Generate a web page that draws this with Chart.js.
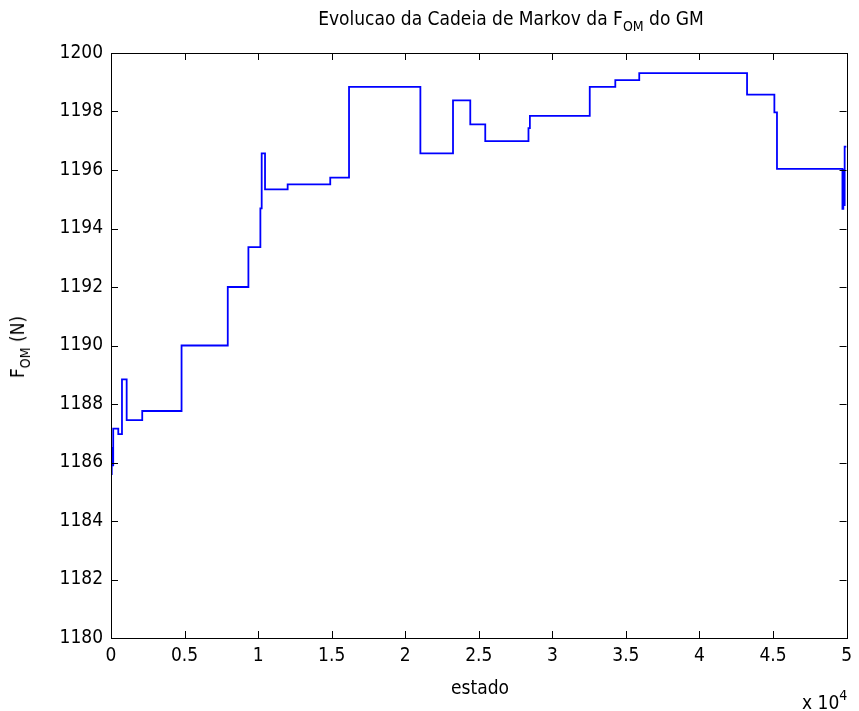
<!DOCTYPE html>
<html>
<head>
<meta charset="utf-8">
<script src="https://cdn.jsdelivr.net/npm/chart.js@4"></script>
<style>
  body { margin: 0; background: #fff; }
  #wrap { position: relative; width: 859px; height: 711px; font-family: "Liberation Sans Narrow", "DejaVu Sans Condensed", Arial, sans-serif; color: #000; }
  canvas { position: absolute; left: 0; top: 0; }
  .txt { position: absolute; white-space: nowrap; font-size: 19px; line-height: 1; }
  sub { font-size: 14px; vertical-align: -6px; }
  sup { font-size: 14px; vertical-align: 9px; }
</style>
</head>
<body>
<div id="wrap">
  <canvas id="grafico" width="859" height="711"></canvas>
  <div class="txt" id="titulo" style="left:511px; top:9px; transform: translateX(-50%);">Evolucao da Cadeia de Markov da F<sub>OM</sub> do GM</div>
  <div class="txt" id="rotuloY" style="left:20px; top:347px; transform: translate(-50%, -50%) rotate(-90deg);">F<sub>OM</sub> (N)</div>
  <div class="txt" id="rotuloX" style="left:480px; top:678px; transform: translateX(-50%);">estado</div>
  <div class="txt" id="expoente" style="left:802px; top:688px;">x 10<sup>4</sup></div>
</div>
<script>
// estado onde cada novo valor comeca (degraus da cadeia)
const estados = [0, 50, 100, 150, 495, 746, 1065, 2123, 4796, 7937, 9340, 10154, 10243, 10470, 12008, 14903, 16180, 21030, 23248, 24422, 25440, 28378, 28473, 32543, 34280, 35908, 43236, 45093, 45270, 49720, 49780, 49830, 49870, 50000];
const fom = [1185.6, 1186.5, 1185.9, 1187.16, 1186.97, 1188.84, 1187.45, 1187.76, 1190.0, 1192.0, 1193.36, 1194.69, 1196.57, 1195.34, 1195.51, 1195.74, 1198.84, 1196.57, 1198.38, 1197.56, 1196.99, 1197.43, 1197.85, 1198.84, 1199.07, 1199.31, 1198.58, 1197.97, 1196.04, 1194.67, 1196.0, 1194.8, 1196.8, 1196.8];
const ticksX = [0, 5000, 10000, 15000, 20000, 25000, 30000, 35000, 40000, 45000, 50000];
const ticksY = [1180, 1182, 1184, 1186, 1188, 1190, 1192, 1194, 1196, 1198, 1200];

const fonte = { family: '"Liberation Sans Narrow", "DejaVu Sans Condensed", Arial, sans-serif', size: 19 };

// caixa e marcas para dentro, estilo matlab
const marcasInternas = {
  id: 'marcasInternas',
  afterDraw(chart) {
    const ctx = chart.ctx;
    const a = chart.chartArea;
    const sx = chart.scales.x, sy = chart.scales.y;
    const len = 7;
    ctx.save();
    ctx.strokeStyle = '#000';
    ctx.lineWidth = 1;
    ctx.beginPath();
    ticksX.forEach(v => {
      const px = Math.round(sx.getPixelForValue(v)) + 0.5;
      ctx.moveTo(px, a.bottom); ctx.lineTo(px, a.bottom - len);
      ctx.moveTo(px, a.top); ctx.lineTo(px, a.top + len);
    });
    ticksY.forEach(v => {
      const py = Math.round(sy.getPixelForValue(v)) + 0.5;
      ctx.moveTo(a.left, py); ctx.lineTo(a.left + len, py);
      ctx.moveTo(a.right, py); ctx.lineTo(a.right - len, py);
    });
    ctx.stroke();
    ctx.strokeRect(Math.round(a.left) + 0.5, Math.round(a.top) + 0.5, Math.round(a.right - a.left), Math.round(a.bottom - a.top));
    ctx.restore();
  }
};

new Chart(document.getElementById('grafico'), {
  type: 'line',
  data: {
    datasets: [{
      data: estados.map((e, i) => ({ x: e, y: fom[i] })),
      borderColor: '#0000ff',
      borderWidth: 1.8,
      pointRadius: 0,
      stepped: true,
      fill: false
    }]
  },
  options: {
    responsive: false,
    animation: false,
    layout: { padding: { top: 53, right: 11, left: 0, bottom: 0 } },
    plugins: { legend: { display: false }, tooltip: { enabled: false } },
    scales: {
      x: {
        type: 'linear',
        min: 0, max: 50000,
        afterFit: s => { s.height = 73; },
        afterBuildTicks: s => { s.ticks = ticksX.map(v => ({ value: v })); },
        grid: { display: false, drawTicks: false },
        border: { display: false },
        ticks: { color: '#000', font: fonte, padding: 7, maxRotation: 0, callback: v => String(v / 10000) }
      },
      y: {
        min: 1180, max: 1200,
        afterFit: s => { s.width = 111; },
        afterBuildTicks: s => { s.ticks = ticksY.map(v => ({ value: v })); },
        grid: { display: false, drawTicks: false },
        border: { display: false },
        ticks: { color: '#000', font: fonte, padding: 8, callback: v => String(v) }
      }
    }
  },
  plugins: [marcasInternas]
});
</script>
</body>
</html>
